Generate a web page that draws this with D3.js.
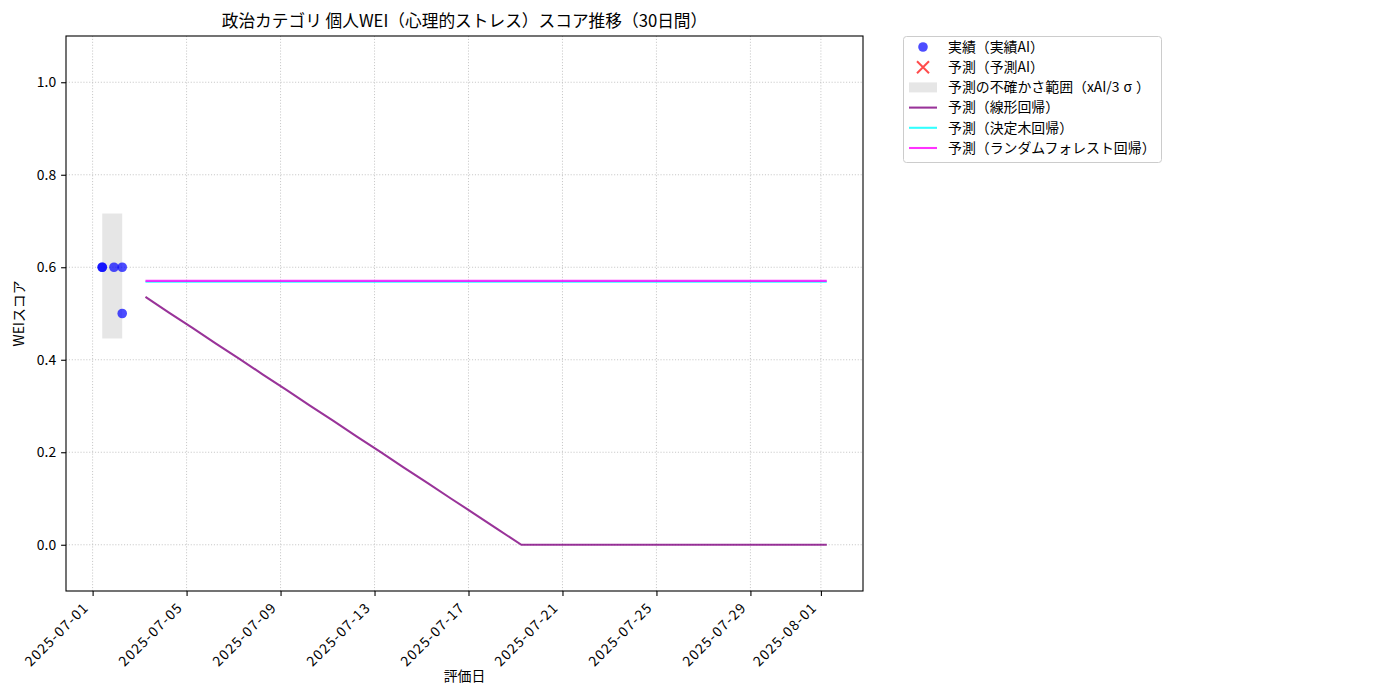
<!DOCTYPE html>
<html>
<head>
<meta charset="utf-8">
<title>政治カテゴリ 個人WEI スコア推移</title>
<script src="https://d3js.org/d3.v7.min.js"></script>
<style>
body { margin: 0; background: #fff; }
text { font-family: "Noto Sans CJK JP", "Noto Sans", sans-serif; fill: #000; }
</style>
</head>
<body>
<div id="container"></div>
<script>
// Actual scores (実績AI)
const actualDates = ["2025-07-01T09:50", "2025-07-01T09:50", "2025-07-01T21:50", "2025-07-02T06:15", "2025-07-02T06:15"];
const actualValues = [0.6, 0.6, 0.6, 0.6, 0.5];

// Uncertainty band (xAI / 3σ)
const bandDates = ["2025-07-01T09:50", "2025-07-02T06:15"];
const bandLower = [0.446, 0.446];
const bandUpper = [0.716, 0.716];

// Forecast dates (30 days)
const forecastDates = [
  "2025-07-03T06:00", "2025-07-04T06:00", "2025-07-05T06:00", "2025-07-06T06:00", "2025-07-07T06:00",
  "2025-07-08T06:00", "2025-07-09T06:00", "2025-07-10T06:00", "2025-07-11T06:00", "2025-07-12T06:00",
  "2025-07-13T06:00", "2025-07-14T06:00", "2025-07-15T06:00", "2025-07-16T06:00", "2025-07-17T06:00",
  "2025-07-18T06:00", "2025-07-19T06:00", "2025-07-20T06:00", "2025-07-21T06:00", "2025-07-22T06:00",
  "2025-07-23T06:00", "2025-07-24T06:00", "2025-07-25T06:00", "2025-07-26T06:00", "2025-07-27T06:00",
  "2025-07-28T06:00", "2025-07-29T06:00", "2025-07-30T06:00", "2025-07-31T06:00", "2025-08-01T06:00"
];
const linearValues = [
  0.536, 0.502, 0.469, 0.435, 0.402, 0.368, 0.335, 0.301, 0.268, 0.234,
  0.201, 0.167, 0.134, 0.100, 0.067, 0.033, 0.000, 0.000, 0.000, 0.000,
  0.000, 0.000, 0.000, 0.000, 0.000, 0.000, 0.000, 0.000, 0.000, 0.000
];
const treeValues = [
  0.5685, 0.5685, 0.5685, 0.5685, 0.5685, 0.5685, 0.5685, 0.5685, 0.5685, 0.5685,
  0.5685, 0.5685, 0.5685, 0.5685, 0.5685, 0.5685, 0.5685, 0.5685, 0.5685, 0.5685,
  0.5685, 0.5685, 0.5685, 0.5685, 0.5685, 0.5685, 0.5685, 0.5685, 0.5685, 0.5685
];
const forestValues = [
  0.5705, 0.5705, 0.5705, 0.5705, 0.5705, 0.5705, 0.5705, 0.5705, 0.5705, 0.5705,
  0.5705, 0.5705, 0.5705, 0.5705, 0.5705, 0.5705, 0.5705, 0.5705, 0.5705, 0.5705,
  0.5705, 0.5705, 0.5705, 0.5705, 0.5705, 0.5705, 0.5705, 0.5705, 0.5705, 0.5705
];

const xTickLabels = ["2025-07-01", "2025-07-05", "2025-07-09", "2025-07-13", "2025-07-17",
  "2025-07-21", "2025-07-25", "2025-07-29", "2025-08-01"];
const yTicks = [0.0, 0.2, 0.4, 0.6, 0.8, 1.0];

const legendLabels = ["実績（実績AI）", "予測（予測AI）", "予測の不確かさ範囲（xAI/3σ）",
  "予測（線形回帰）", "予測（決定木回帰）", "予測（ランダムフォレスト回帰）"];

// Chart dimensions
const width = 1400;
const height = 700;
const marginTop = 36;
const marginRight = 537;
const marginBottom = 109;
const marginLeft = 66;
const lw = 1.5 * 100 / 72;   // matplotlib 1.5pt at 100 dpi

const parse = d3.isoParse;
const actual = actualDates.map((d, i) => ({date: parse(d), value: actualValues[i]}));
const band = bandDates.map((d, i) => ({date: parse(d), lo: bandLower[i], hi: bandUpper[i]}));
const series = [
  {values: linearValues, color: "#800080"},
  {values: treeValues, color: "#00ffff"},
  {values: forestValues, color: "#ff00ff"}
].map(s => ({color: s.color, points: forecastDates.map((d, i) => ({date: parse(d), value: s.values[i]}))}));

// x domain with 5% padding like matplotlib
const allDates = actual.map(d => d.date).concat(forecastDates.map(parse));
const [dMin, dMax] = d3.extent(allDates);
const pad = (dMax - dMin) * 0.05;
const x = d3.scaleTime()
    .domain([new Date(+dMin - pad), new Date(+dMax + pad)])
    .range([marginLeft, width - marginRight]);

const y = d3.scaleLinear()
    .domain([-0.1, 1.1])
    .range([height - marginBottom, marginTop]);

const svg = d3.create("svg")
    .attr("width", width)
    .attr("height", height);

const xTicks = xTickLabels.map(d => parse(d + "T00:00"));

// Grid
const grid = svg.append("g")
    .attr("stroke", "#b0b0b0")
    .attr("stroke-opacity", 0.7)
    .attr("stroke-dasharray", "1.1,1.8")
    .attr("stroke-width", 1);
grid.selectAll("line.gx").data(xTicks).join("line")
    .attr("x1", d => x(d)).attr("x2", d => x(d))
    .attr("y1", marginTop).attr("y2", height - marginBottom);
grid.selectAll("line.gy").data(yTicks).join("line")
    .attr("x1", marginLeft).attr("x2", width - marginRight)
    .attr("y1", d => y(d)).attr("y2", d => y(d));

// Uncertainty band
svg.append("path")
    .attr("fill", "#808080")
    .attr("fill-opacity", 0.2)
    .attr("d", d3.area().x(d => x(d.date)).y0(d => y(d.lo)).y1(d => y(d.hi))(band));

// Forecast lines
const line = d3.line().x(d => x(d.date)).y(d => y(d.value));
svg.selectAll("path.fc").data(series).join("path")
    .attr("fill", "none")
    .attr("stroke", d => d.color)
    .attr("stroke-opacity", 0.8)
    .attr("stroke-width", lw)
    .attr("d", d => line(d.points));

// Actual points
svg.append("g").selectAll("circle").data(actual).join("circle")
    .attr("cx", d => x(d.date))
    .attr("cy", d => y(d.value))
    .attr("r", 4.8)
    .attr("fill", "blue")
    .attr("fill-opacity", 0.7);

// Axes
const xAxis = svg.append("g")
    .attr("transform", `translate(0,${height - marginBottom})`)
    .call(d3.axisBottom(x).tickValues(xTicks).tickFormat(d3.timeFormat("%Y-%m-%d")).tickSize(4.9));
xAxis.select(".domain").remove();
xAxis.selectAll("text")
    .attr("font-size", 13.9)
    .attr("letter-spacing", "1.2px")
    .attr("text-anchor", "end")
    .attr("x", 0).attr("y", 0)
    .attr("dy", "0.35em")
    .attr("transform", "translate(-7,14) rotate(-45)");

const yAxis = svg.append("g")
    .attr("transform", `translate(${marginLeft},0)`)
    .call(d3.axisLeft(y).tickValues(yTicks).tickFormat(d3.format(".1f")).tickSize(4.9).tickPadding(5));
yAxis.select(".domain").remove();
yAxis.selectAll("text").attr("font-size", 13.9);

svg.selectAll(".tick line").attr("stroke", "#000").attr("stroke-width", 1.1);
svg.selectAll(".tick text").style("font-family", '"Noto Sans CJK JP", sans-serif');

// Frame
svg.append("rect")
    .attr("x", marginLeft).attr("y", marginTop)
    .attr("width", width - marginRight - marginLeft)
    .attr("height", height - marginBottom - marginTop)
    .attr("fill", "none").attr("stroke", "#000").attr("stroke-width", 1.1);

// Titles
const cx = (marginLeft + width - marginRight) / 2;
svg.append("text")
    .attr("x", cx).attr("y", 27)
    .attr("text-anchor", "middle")
    .attr("font-size", 16.7)
    .text("政治カテゴリ 個人WEI（心理的ストレス）スコア推移（30日間）");
svg.append("text")
    .attr("x", cx).attr("y", 681)
    .attr("text-anchor", "middle")
    .attr("font-size", 13.9)
    .text("評価日");
svg.append("text")
    .attr("transform", `translate(24,${(marginTop + height - marginBottom) / 2}) rotate(-90)`)
    .attr("text-anchor", "middle")
    .attr("font-size", 13.9)
    .text("WEIスコア");

// Legend
const lg = svg.append("g").attr("transform", "translate(903,36)");
lg.append("rect")
    .attr("x", 0.5).attr("y", 0.5).attr("width", 258).attr("height", 126).attr("rx", 3)
    .attr("fill", "#fff").attr("stroke", "#cccccc");
const rowY = i => 11 + i * 20.2;
lg.selectAll("text.lt").data(legendLabels).join("text")
    .attr("x", 45).attr("y", (d, i) => rowY(i))
    .attr("dy", "0.35em")
    .attr("font-size", 13.9)
    .each(function(d) {
      // the CJK font in the original sets σ full width, so pad it on both sides
      const parts = d.split("σ");
      const t = d3.select(this);
      parts.forEach((p, k) => {
        t.append("tspan").attr("dx", k > 0 ? 4 : null).text(p);
        if (k < parts.length - 1) t.append("tspan").attr("dx", 4).text("σ");
      });
    });
lg.append("circle").attr("cx", 20).attr("cy", rowY(0)).attr("r", 4.8)
    .attr("fill", "blue").attr("fill-opacity", 0.7);
lg.append("path")
    .attr("d", `M14,${rowY(1) - 6}L26,${rowY(1) + 6}M26,${rowY(1) - 6}L14,${rowY(1) + 6}`)
    .attr("stroke", "red").attr("stroke-opacity", 0.7).attr("stroke-width", 2);
lg.append("rect").attr("x", 6).attr("y", rowY(2) - 5).attr("width", 28).attr("height", 10)
    .attr("fill", "#808080").attr("fill-opacity", 0.2);
series.forEach((s, i) => {
  lg.append("line")
      .attr("x1", 6).attr("x2", 34).attr("y1", rowY(3 + i)).attr("y2", rowY(3 + i))
      .attr("stroke", s.color).attr("stroke-opacity", 0.8).attr("stroke-width", lw);
});

container.append(svg.node());
</script>
</body>
</html>
